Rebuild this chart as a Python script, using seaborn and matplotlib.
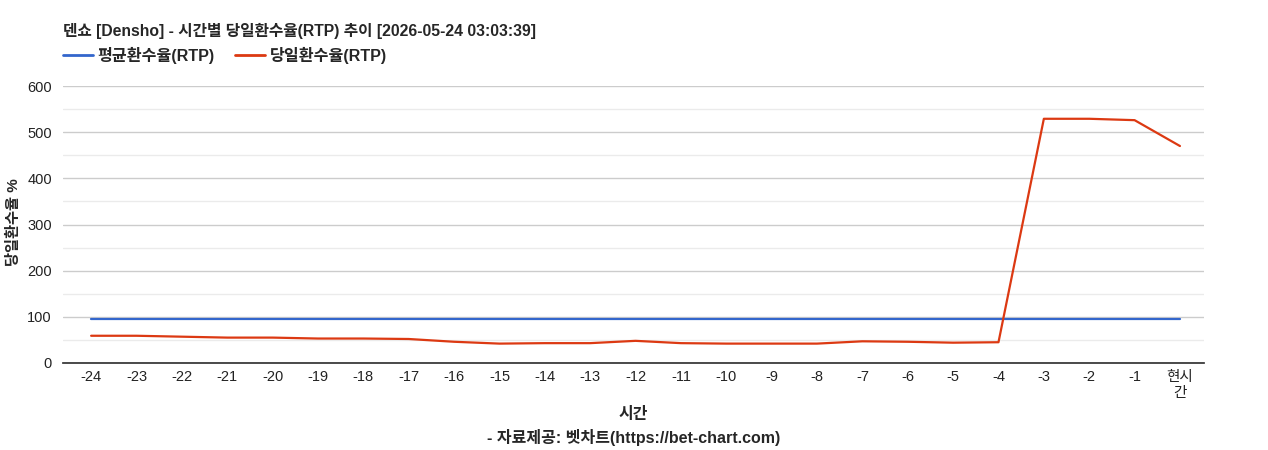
import matplotlib
matplotlib.use("Agg")
import matplotlib.pyplot as plt
from matplotlib.lines import Line2D
import seaborn as sns
import pandas as pd

hours = [str(h) for h in range(-24, 0)] + ["현시\n간"]
avg_rtp = [96] * 25
day_rtp = [59, 59, 57, 55, 55, 53, 53, 52, 46, 42, 43, 43, 48, 43, 42, 42, 42,
           47, 46, 44, 45, 529, 529, 526, 470]

title = "덴쇼 [Densho] - 시간별 당일환수율(RTP) 추이 [2026-05-24 03:03:39]"
series_names = ["평균환수율(RTP)", "당일환수율(RTP)"]
colors = ["#3366cc", "#dc3912"]

sns.set_theme(style="white")
plt.rcParams['font.family'] = ['Liberation Sans', 'Noto Sans CJK KR', 'DejaVu Sans']

df = pd.DataFrame({
    "x": list(range(len(hours))) * 2,
    "value": avg_rtp + day_rtp,
    "series": [series_names[0]] * len(hours) + [series_names[1]] * len(hours),
})

fig = plt.figure(figsize=(12.68, 4.5), dpi=100)
ax = fig.add_axes([63 / 1268, 87 / 450, (1204 - 63) / 1268, (363 - 86) / 450])

sns.lineplot(data=df, x="x", y="value", hue="series",
             palette=colors, linewidth=1.6, ax=ax, legend=False)

ax.set_xlim(-0.62, 24.53)
ax.set_ylim(0, 600)
ax.set_xticks(range(len(hours)))
ax.set_xticklabels(hours)
ax.set_yticks(range(0, 601, 100))
ax.set_yticks(range(50, 600, 100), minor=True)
ax.grid(axis="y", which="major", color="#cccccc", linewidth=1)
ax.grid(axis="y", which="minor", color="#ebebeb", linewidth=1)
ax.set_axisbelow(True)
for s in ["top", "right", "left"]:
    ax.spines[s].set_visible(False)
ax.spines["bottom"].set_color("#333333")
ax.tick_params(axis="both", labelsize=10.5, colors="#222222", length=0)
ax.tick_params(axis="y", pad=8)
ax.tick_params(axis="x", pad=5)

ax.set_xlabel("")
ax.set_ylabel("")
fig.text(14 / 1268, 1 - 222 / 450, "당일환수율 %", fontsize=11, fontweight="bold",
         rotation=90, ha="center", va="center")

fig.text(63 / 1268, 1 - 31 / 450, title, fontsize=11.3, fontweight="bold",
         va="center", ha="left")

handles = [Line2D([], [], color=c, lw=2) for c in colors]
fig.legend(handles, series_names, loc="center left",
           bbox_to_anchor=(63 / 1268, 1 - 55 / 450), ncol=2, frameon=False,
           prop={"size": 11.6, "weight": "bold"}, handlelength=1.85,
           columnspacing=1.25, handletextpad=0.3, borderpad=0, borderaxespad=0)

fig.text(0.5 * (63 + 1204) / 1268, 1 - 415 / 450, "시간", fontsize=11.5,
         fontweight="bold", ha="center", va="center")
fig.text(0.5 * (63 + 1204) / 1268, 1 - 437 / 450,
         "- 자료제공: 벳차트(https://bet-chart.com)", fontsize=11.5,
         fontweight="bold", ha="center", va="center")

fig.savefig("out.png", dpi=100)
